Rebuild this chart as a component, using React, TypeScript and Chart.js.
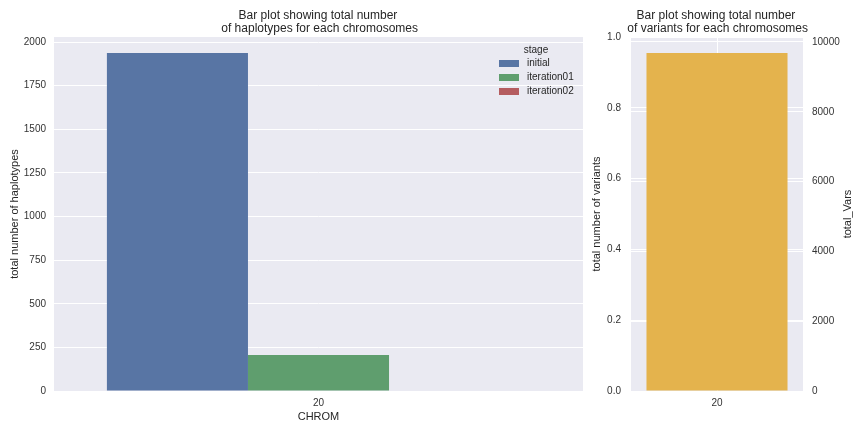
import React, { useEffect, useRef } from "react";
import { Chart, registerables } from "chart.js";
Chart.register(...registerables);

const categories = ["20"];
const stages = ["initial", "iteration01", "iteration02"];
const haplotypeCounts = [1938, 206, 0];
const stageColors = ["#5875A4", "#5F9E6E", "#B55D60"];
const variantCounts = [9685];
const variantColor = "#E4B34D";
const haplotypeTicks = [0, 250, 500, 750, 1000, 1250, 1500, 1750, 2000];
const fractionTicks = [0, 0.2, 0.4, 0.6, 0.8, 1.0];
const variantTicks = [0, 2000, 4000, 6000, 8000, 10000];
const haplotypeMax = 2029;
const variantMax = 10143;

const FONT = "'Liberation Sans', Arial, sans-serif";
const TEXT = "#262626";
const TICK = "#333333";
const BG = "#EAEAF2";

const bgPlugin = {
  id: "bgArea",
  beforeDraw(chart: any) {
    const { ctx, chartArea: a } = chart;
    ctx.save();
    ctx.fillStyle = BG;
    ctx.fillRect(a.left, a.top, a.right - a.left, a.bottom - a.top);
    ctx.restore();
  },
};

const legendPlugin = {
  id: "stageLegend",
  afterDatasetsDraw(chart: any) {
    const { ctx } = chart;
    ctx.save();
    ctx.font = `10px ${FONT}`;
    ctx.fillStyle = TEXT;
    ctx.textBaseline = "middle";
    ctx.textAlign = "center";
    ctx.fillText("stage", 536, 50);
    ctx.textAlign = "left";
    stages.forEach((s, i) => {
      const y = 63.5 + i * 14;
      ctx.fillStyle = stageColors[i];
      ctx.fillRect(499, y - 3.5, 20, 7);
      ctx.fillStyle = TEXT;
      ctx.fillText(s, 527, y);
    });
    ctx.restore();
  },
};

const rightTitlePlugin = {
  id: "rightTitle",
  afterDraw(chart: any) {
    const { ctx, chartArea: a } = chart;
    ctx.save();
    ctx.font = `11px ${FONT}`;
    ctx.fillStyle = TEXT;
    ctx.textAlign = "center";
    ctx.textBaseline = "middle";
    ctx.translate(258, (a.top + a.bottom) / 2);
    ctx.rotate(-Math.PI / 2);
    ctx.fillText("total_Vars", 0, 0);
    ctx.restore();
  },
};

function LeftChart() {
  const ref = useRef<HTMLCanvasElement>(null);
  useEffect(() => {
    const chart = new Chart(ref.current!, {
      type: "bar",
      data: {
        labels: categories,
        datasets: stages.map((s, i) => ({
          label: s,
          data: [haplotypeCounts[i]],
          backgroundColor: stageColors[i],
          borderWidth: 0,
          categoryPercentage: 0.8,
          barPercentage: 1,
        })),
      },
      options: {
        animation: false,
        responsive: false,
        maintainAspectRatio: false,
        layout: { padding: { top: 37, right: 17, left: 0, bottom: 0 } },
        plugins: { legend: { display: false }, tooltip: { enabled: false }, title: { display: false } },
        scales: {
          x: {
            grid: { display: false, drawTicks: false },
            border: { display: false },
            ticks: { padding: 6, color: TICK, font: { family: FONT, size: 10 } },
            title: {
              display: true,
              text: "CHROM",
              color: TEXT,
              font: { family: FONT, size: 11 },
              padding: { top: 0, bottom: 8 },
            },
            afterFit(s: any) {
              s.height = 41;
            },
          },
          y: {
            min: 0,
            max: haplotypeMax,
            grid: { color: "#ffffff", lineWidth: 1, drawTicks: false },
            border: { display: false },
            ticks: {
              padding: 8,
              color: TICK,
              font: { family: FONT, size: 10 },
              callback: (v: any) => String(v),
            },
            afterBuildTicks(s: any) {
              s.ticks = haplotypeTicks.map((v) => ({ value: v }));
            },
            title: {
              display: true,
              text: "total number of haplotypes",
              color: TEXT,
              font: { family: FONT, size: 11 },
              padding: { top: 8, bottom: 0 },
            },
            afterFit(s: any) {
              s.width = 54;
            },
          },
        },
      } as any,
      plugins: [bgPlugin, legendPlugin],
    });
    return () => chart.destroy();
  }, []);
  return (
    <canvas
      ref={ref}
      width={600}
      height={432}
      style={{ position: "absolute", left: 0, top: 0, width: 600, height: 432 }}
    />
  );
}

function RightChart() {
  const ref = useRef<HTMLCanvasElement>(null);
  useEffect(() => {
    const chart = new Chart(ref.current!, {
      type: "bar",
      data: {
        labels: categories,
        datasets: [
          {
            label: "total_Vars",
            data: variantCounts,
            yAxisID: "y2",
            backgroundColor: variantColor,
            borderWidth: 0,
            categoryPercentage: 0.82,
            barPercentage: 1,
          },
        ],
      },
      options: {
        animation: false,
        responsive: false,
        maintainAspectRatio: false,
        layout: { padding: { top: 37, right: 0, left: 0, bottom: 0 } },
        plugins: { legend: { display: false }, tooltip: { enabled: false }, title: { display: false } },
        scales: {
          x: {
            grid: { display: true, offset: false, color: "#ffffff", lineWidth: 1, drawTicks: false },
            border: { display: false },
            ticks: { padding: 6, color: TICK, font: { family: FONT, size: 10 } },
            afterFit(s: any) {
              s.height = 41;
            },
          },
          y: {
            position: "left",
            min: 0,
            max: 1,
            grid: { color: "#ffffff", lineWidth: 1, drawTicks: false },
            border: { display: false },
            ticks: {
              padding: 10,
              color: TICK,
              font: { family: FONT, size: 10 },
              callback: (v: any) => Number(v).toFixed(1),
            },
            afterBuildTicks(s: any) {
              s.ticks = fractionTicks.map((v) => ({ value: v }));
            },
            title: {
              display: true,
              text: "total number of variants",
              color: TEXT,
              font: { family: FONT, size: 11 },
              padding: { top: 0, bottom: 0 },
            },
            afterFit(s: any) {
              s.width = 41;
            },
          },
          y2: {
            position: "right",
            min: 0,
            max: variantMax,
            grid: { color: "#ffffff", lineWidth: 1, drawTicks: false },
            border: { display: false },
            ticks: {
              padding: 9,
              color: TICK,
              font: { family: FONT, size: 10 },
              callback: (v: any) => String(v),
            },
            afterBuildTicks(s: any) {
              s.ticks = variantTicks.map((v) => ({ value: v }));
            },
            afterFit(s: any) {
              s.width = 61;
            },
          },
        },
      } as any,
      plugins: [bgPlugin, rightTitlePlugin],
    });
    return () => chart.destroy();
  }, []);
  return (
    <canvas
      ref={ref}
      width={274}
      height={432}
      style={{ position: "absolute", left: 590, top: 0, width: 274, height: 432 }}
    />
  );
}

const titleStyle: React.CSSProperties = {
  position: "absolute",
  top: 9,
  textAlign: "center",
  whiteSpace: "pre",
  fontFamily: FONT,
  fontSize: 12,
  lineHeight: "13px",
  color: TEXT,
};

export default function App() {
  return (
    <div
      style={{
        position: "absolute",
        left: 0,
        top: 0,
        width: 864,
        height: 432,
        background: "#ffffff",
        overflow: "hidden",
      }}
    >
      <LeftChart />
      <RightChart />
      <div style={{ ...titleStyle, left: 0, width: 636 }}>
        {"Bar plot showing total number\n of haplotypes for each chromosomes"}
      </div>
      <div style={{ ...titleStyle, left: 566, width: 300 }}>
        {"Bar plot showing total number\n of variants for each chromosomes"}
      </div>
    </div>
  );
}
